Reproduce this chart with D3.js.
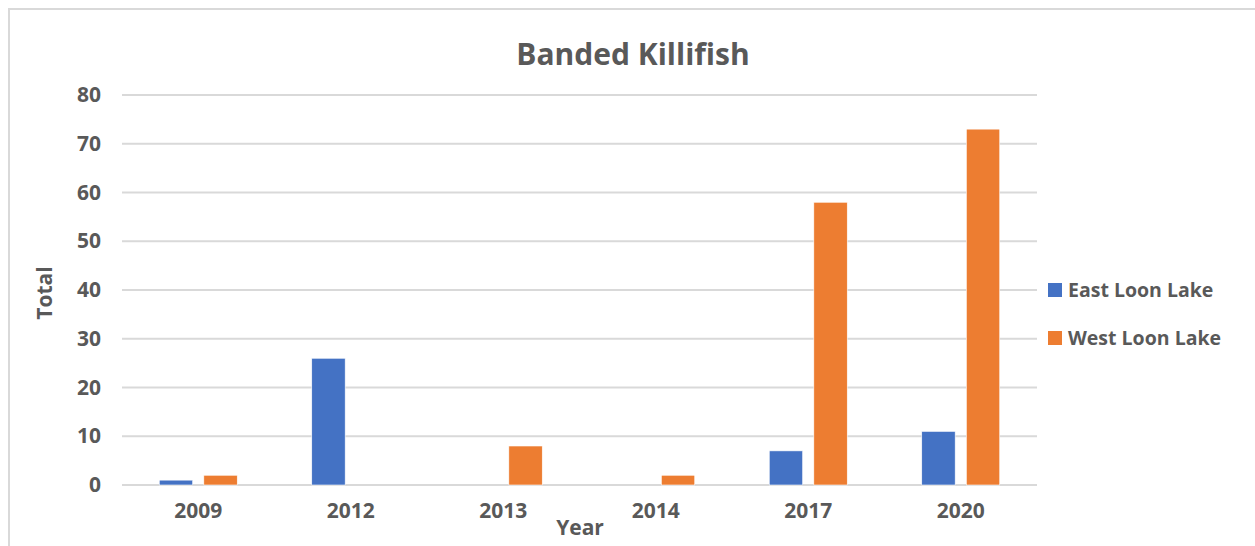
<!DOCTYPE html>
<html>
<head>
<meta charset="utf-8">
<script src="https://cdn.jsdelivr.net/npm/d3@7"></script>
<style>
  body { margin: 0; background: #fff; }
  text { font-family: "Open Sans", sans-serif; fill: #595959; font-weight: 700; }
</style>
</head>
<body>
<svg id="plot"></svg>
<script>
// Data
const years = ["2009", "2012", "2013", "2014", "2017", "2020"];
const seriesNames = ["East Loon Lake", "West Loon Lake"];
const eastLoon = [1, 26, 0, 0, 7, 11];
const westLoon = [2, 0, 8, 2, 58, 73];
const yTicks = [0, 10, 20, 30, 40, 50, 60, 70, 80];
const colors = ["#4472C4", "#ED7D31"];

const W = 1255, H = 546;
const margin = { top: 95, right: 218, bottom: 61, left: 122 };
const width = W - margin.left - margin.right;
const height = H - margin.top - margin.bottom;

const svg = d3.select("#plot")
    .attr("width", W)
    .attr("height", H);

// outer frame
svg.append("rect")
    .attr("x", 9).attr("y", 9)
    .attr("width", W + 10).attr("height", H + 10)
    .attr("fill", "none")
    .attr("stroke", "#d9d9d9")
    .attr("stroke-width", 2);

const g = svg.append("g")
    .attr("transform", `translate(${margin.left},${margin.top})`);

// Scales
const x = d3.scaleBand().domain(years).range([0, width]).padding(0);
const x1 = d3.scaleBand().domain(seriesNames)
    .range([x.bandwidth() / 2 - 39, x.bandwidth() / 2 + 39])
    .paddingInner(0.25);
const y = d3.scaleLinear().domain([0, 80]).range([height, 0]);

// gridlines
g.selectAll(".grid")
    .data(yTicks)
    .enter().append("line")
    .attr("x1", 0).attr("x2", width)
    .attr("y1", d => y(d)).attr("y2", d => y(d))
    .attr("stroke", "#d9d9d9")
    .attr("stroke-width", 2);

// y tick labels
const yAxis = g.append("g")
    .call(d3.axisLeft(y).tickValues(yTicks).tickSize(0).tickPadding(21));
yAxis.select(".domain").remove();
yAxis.selectAll("text")
    .style("font-size", "21px")
    .attr("fill", "#595959")
    .attr("font-family", "Open Sans")
    .attr("font-weight", 700);

// x tick labels
const xAxis = g.append("g")
    .attr("transform", `translate(0,${height})`)
    .call(d3.axisBottom(x).tickSize(0).tickPadding(18));
xAxis.select(".domain").remove();
xAxis.selectAll("text")
    .style("font-size", "21px")
    .attr("fill", "#595959")
    .attr("font-family", "Open Sans")
    .attr("font-weight", 700);

// bars
const seriesData = [eastLoon, westLoon];
seriesNames.forEach((name, si) => {
    g.selectAll(".bar-" + si)
        .data(years.map((yr, i) => ({ year: yr, value: seriesData[si][i] })))
        .enter().append("rect")
        .attr("class", "bar-" + si)
        .attr("x", d => x(d.year) + x1(name))
        .attr("width", x1.bandwidth())
        .attr("y", d => y(d.value))
        .attr("height", d => y(0) - y(d.value))
        .attr("fill", colors[si])
        .attr("stroke", "#fff")
        .attr("stroke-width", 0.6);
});

// title
svg.append("text")
    .attr("x", 633)
    .attr("y", 65)
    .attr("text-anchor", "middle")
    .style("font-size", "30px")
    .text("Banded Killifish");

// axis labels
svg.append("text")
    .attr("transform", "translate(52,293) rotate(-90)")
    .attr("text-anchor", "middle")
    .style("font-size", "21px")
    .text("Total");

svg.append("text")
    .attr("x", 580)
    .attr("y", 535)
    .attr("text-anchor", "middle")
    .style("font-size", "21px")
    .text("Year");

// legend
const legend = svg.append("g");
seriesNames.forEach((name, i) => {
    const ly = 283 + i * 48;
    legend.append("rect")
        .attr("x", 1048).attr("y", ly)
        .attr("width", 14).attr("height", 14)
        .attr("fill", colors[i]);
    legend.append("text")
        .attr("x", 1068)
        .attr("y", ly + 14)
        .style("font-size", "19.5px")
        .text(name);
});
</script>
</body>
</html>
